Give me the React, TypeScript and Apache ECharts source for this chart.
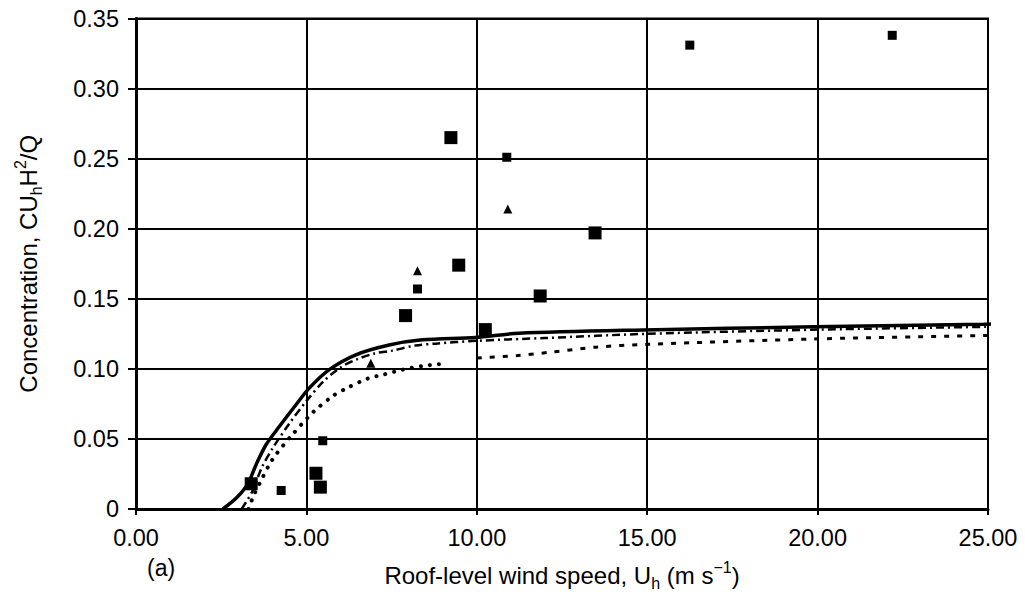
import React, { useEffect, useRef } from 'react';
import * as echarts from 'echarts';

const FONT = '"Liberation Sans", Arial, Helvetica, sans-serif';

// Model curves [wind speed, concentration]
const solidCurve: number[][] = [
  [2.55, 0], [2.95, 0.008], [3.28, 0.018], [3.53, 0.032], [3.82, 0.046], [4.21, 0.059],
  [4.7, 0.0746], [5.09, 0.0864], [5.67, 0.0994], [6.45, 0.11], [7.43, 0.117], [8.4, 0.1207],
  [9.96, 0.1224], [11.23, 0.1254], [14.88, 0.1278], [19.9, 0.13], [24.87, 0.1318], [25.2, 0.132],
];
const dashDotCurve: number[][] = [
  [3.1, 0], [3.4, 0.012], [3.7, 0.03], [4.0, 0.043], [4.5, 0.061], [5.0, 0.077], [5.5, 0.091],
  [6.0, 0.101], [6.5, 0.107], [7.0, 0.111], [7.52, 0.113], [8.2, 0.1167], [8.79, 0.118],
  [10, 0.12], [12, 0.122], [15, 0.125], [20, 0.128], [25, 0.13],
];
const dottedCurve: number[][] = [
  [3.3, 0], [3.48, 0.011], [3.72, 0.0227], [3.92, 0.032], [4.11, 0.039], [4.55, 0.052],
  [5.18, 0.0687], [5.77, 0.0805], [6.2, 0.0864], [6.79, 0.093], [7.28, 0.096], [7.82, 0.0994],
  [8.4, 0.102], [8.95, 0.1035],
];
const dashedCurve: number[][] = [
  [10.0, 0.1077], [11.2, 0.1095], [12.2, 0.112], [13.5, 0.1155], [15, 0.1175], [20, 0.1214], [25, 0.1238],
];

// Measured points
const largeSquares: number[][] = [
  [3.38, 0.018], [5.28, 0.0255], [5.41, 0.0156], [7.91, 0.138], [9.24, 0.265], [9.47, 0.174],
  [10.25, 0.128], [11.86, 0.152], [13.47, 0.197],
];
const smallSquares: number[][] = [
  [4.26, 0.0132], [5.48, 0.0487], [8.26, 0.157], [10.88, 0.251], [16.25, 0.331], [22.19, 0.338],
];
const triangles: number[][] = [
  [6.89, 0.104], [8.26, 0.17], [10.91, 0.214],
];

const xMin = 0, xMax = 25, xStep = 5;
const yMin = 0, yMax = 0.35, yStep = 0.05;

const richStyles = {
  n: { fontFamily: FONT, fontSize: 24, lineHeight: 32, color: '#000', verticalAlign: 'middle' },
  sub: { fontFamily: FONT, fontSize: 16, lineHeight: 16, color: '#000', verticalAlign: 'bottom' },
  sup: { fontFamily: FONT, fontSize: 16, lineHeight: 16, color: '#000', verticalAlign: 'top' },
};

export default function App() {
  const ref = useRef<HTMLDivElement>(null);
  useEffect(() => {
    document.body.style.margin = '0';
    const chart = echarts.init(ref.current!, null, { renderer: 'svg' });
    const lineBase = { type: 'line', showSymbol: false, symbol: 'none', smooth: 0.3, silent: true, z: 3 };
    const mark = { color: '#000', opacity: 1 };
    chart.setOption({
      animation: false,
      backgroundColor: '#fff',
      grid: {
        left: 136, right: 37, top: 18.5, bottom: 84,
        show: true, borderColor: '#000', borderWidth: 2,
      },
      xAxis: {
        type: 'value', min: xMin, max: xMax, interval: xStep,
        name: '{n|Roof-level wind speed, U}{sub|h}{n| (m s}{sup|−1}{n|)}',
        nameLocation: 'middle', nameGap: 50,
        nameTextStyle: { fontFamily: FONT, fontSize: 24, color: '#000', rich: richStyles },
        axisLine: { show: true, onZero: false, lineStyle: { color: '#000', width: 3 } },
        axisTick: { show: true, length: 6, lineStyle: { color: '#000', width: 2 } },
        axisLabel: { color: '#000', fontFamily: FONT, fontSize: 23.5, margin: 17, formatter: (v: number) => v.toFixed(2) },
        splitLine: { show: true, lineStyle: { color: '#000', width: 2 } },
      },
      yAxis: {
        type: 'value', min: yMin, max: yMax, interval: yStep,
        name: '{n|Concentration, CU}{sub|h}{n|H}{sup|2}{n|/Q}',
        nameLocation: 'middle', nameGap: 92, nameRotate: 90,
        nameTextStyle: { fontFamily: FONT, fontSize: 24, color: '#000', rich: richStyles },
        axisLine: { show: true, onZero: false, lineStyle: { color: '#000', width: 3 } },
        axisTick: { show: true, length: 8, lineStyle: { color: '#000', width: 2 } },
        axisLabel: {
          color: '#000', fontFamily: FONT, fontSize: 23.5, margin: 17,
          formatter: (v: number) => (Math.abs(v) < 1e-9 ? '0' : v.toFixed(2)),
        },
        splitLine: { show: true, lineStyle: { color: '#000', width: 2 } },
      },
      graphic: [
        { type: 'text', left: 147, top: 556, style: { text: '(a)', font: `23px ${FONT}`, fill: '#000' } },
      ],
      series: [
        { ...lineBase, name: 'solid', data: solidCurve, clip: false, lineStyle: { color: '#000', width: 3.5 } },
        { ...lineBase, name: 'dashdot', data: dashDotCurve, lineStyle: { color: '#000', width: 2.5, type: [8, 4, 2, 4] } },
        { ...lineBase, name: 'dotted', data: dottedCurve, lineStyle: { color: '#000', width: 4, type: [0.1, 9], cap: 'round' } },
        { ...lineBase, name: 'dashed', data: dashedCurve, lineStyle: { color: '#000', width: 3, type: [5, 8] } },
        { type: 'scatter', name: 'large', data: largeSquares, symbol: 'rect', symbolSize: 13, itemStyle: mark, z: 4 },
        { type: 'scatter', name: 'small', data: smallSquares, symbol: 'rect', symbolSize: 9, itemStyle: mark, z: 4 },
        { type: 'scatter', name: 'tri', data: triangles, symbol: 'triangle', symbolSize: 9, itemStyle: mark, z: 4 },
      ],
    });
    return () => chart.dispose();
  }, []);
  return (
    <div
      ref={ref}
      style={{ position: 'absolute', left: 0, top: 0, width: 1025, height: 596, background: '#fff' }}
    />
  );
}
